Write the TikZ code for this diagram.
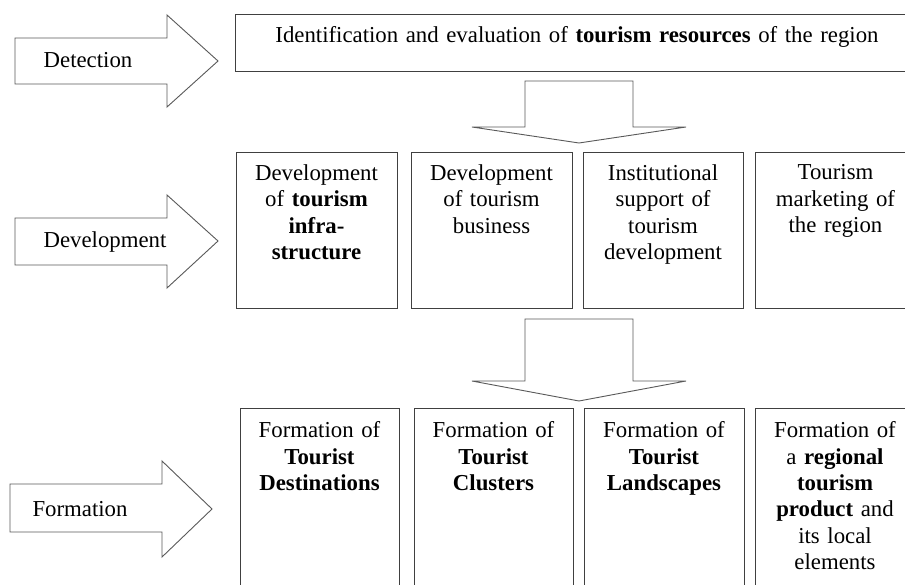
\documentclass[tikz,border=0pt]{standalone}
\usepackage{fontspec}
\setmainfont{Liberation Serif}
\usepackage{tikz}
\usetikzlibrary{positioning}
\def\txtsize{\fontsize{22.8}{26.4}\selectfont}

\begin{document}
\begin{tikzpicture}[x=1pt,y=-1pt,line join=miter]
    \tikzstyle{box}=[draw=black!75,line width=0.8pt,rectangle,anchor=north west,inner sep=0pt,outer sep=0pt]
    \tikzstyle{blockarrow}=[draw=black!65,line width=0.9pt,fill=white]
    \tikzstyle{txt}=[text width=158pt,align=center,anchor=north,inner sep=0pt,font=\txtsize]
    \tikzstyle{stage}=[anchor=base,inner sep=0pt,font=\txtsize]

    % Picture frame, boxes run over the right and bottom edge
    \fill[white] (0,0) rectangle (905,585);
    \useasboundingbox (0,0) rectangle (905,585);
    \clip (0,0) rectangle (905,585);

    % Draw the stage arrows on the left
    \draw[blockarrow] (15,38) -- (167,38) -- (167,15) -- (218,61) -- (167,107) -- (167,84) -- (15,84) -- cycle;
    \draw[blockarrow] (15,218) -- (167,218) -- (167,195) -- (218,241) -- (167,288) -- (167,265) -- (15,265) -- cycle;
    \draw[blockarrow] (10,484) -- (162,484) -- (162,461) -- (212,509) -- (162,557) -- (162,532) -- (10,532) -- cycle;
    \node[stage] (det) at (88,68) {Detection};
    \node[stage] (dev) at (105,248) {Development};
    \node[stage] (form) at (80,516) {Formation};

    % Draw the top box
    \node[box,minimum width=684pt,minimum height=57pt] (R) at (235,14) {};
    \node[txt,text width=680pt,below=12.4pt of R.north] (R-t)
        {Identification and evaluation of \textbf{tourism resources} of the region};

    % Draw the down arrows between the rows
    \draw[blockarrow] (525,81) -- (633,81) -- (633,127) -- (686,127) -- (579,143) -- (472,127) -- (525,127) -- cycle;
    \draw[blockarrow] (525,319) -- (633,319) -- (633,381) -- (686,381) -- (579,401) -- (472,381) -- (525,381) -- cycle;

    % Draw the development row
    \foreach \name / \x / \w in {D-1/236/161,D-2/411/161,D-3/583/160,D-4/755/161}
        \node[box,minimum width=\w pt,minimum height=156pt] (\name) at (\x,152) {};
    \node[txt,below=12.4pt of D-1.north] {Development\\ of \textbf{tourism}\\ \textbf{infra-}\\ \textbf{structure}};
    \node[txt,below=12.4pt of D-2.north] {Development\\ of tourism\\ business};
    \node[txt,below=12.4pt of D-3.north] {Institutional\\ support of\\ tourism\\ development};
    \node[txt,below=12.4pt of D-4.north] {Tourism\\ marketing of\\ the region};

    % Draw the formation row
    \foreach \name / \x / \w in {F-1/240/159,F-2/414/159,F-3/584/160,F-4/755/160}
        \node[box,minimum width=\w pt,minimum height=200pt] (\name) at (\x,408) {};
    \node[txt,below=13.4pt of F-1.north] {Formation of\\ \textbf{Tourist}\\ \textbf{Destinations}};
    \node[txt,below=13.4pt of F-2.north] {Formation of\\ \textbf{Tourist}\\ \textbf{Clusters}};
    \node[txt,below=13.4pt of F-3.north] {Formation of\\ \textbf{Tourist}\\ \textbf{Landscapes}};
    \node[txt,below=13.4pt of F-4.north] {Formation of\\ a \textbf{regional}\\ \textbf{tourism}\\ \textbf{product} and\\ its local\\ elements};
\end{tikzpicture}
\end{document}
